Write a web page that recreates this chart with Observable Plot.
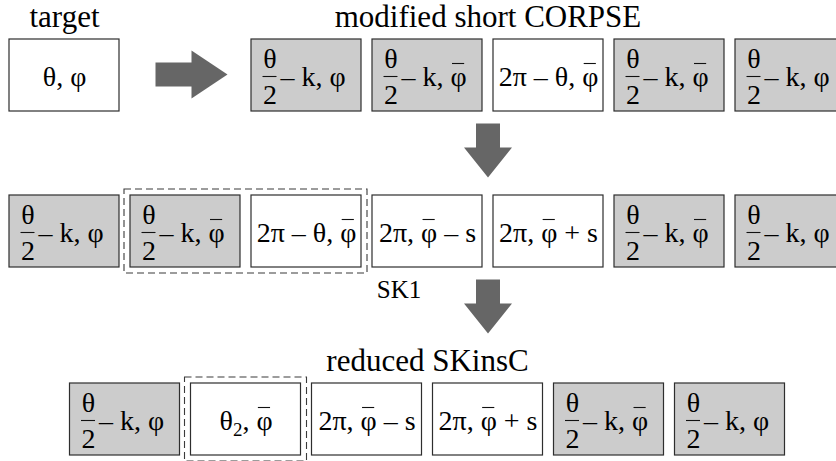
<!DOCTYPE html>
<html>
<head>
<meta charset="utf-8">
<script src="https://cdn.jsdelivr.net/npm/d3@7"></script>
<script src="https://cdn.jsdelivr.net/npm/@observablehq/plot@0.6"></script>
<style>html,body{margin:0;background:#fff}</style>
</head>
<body>
<div id="chart" style="position:relative;width:836px;height:461px"></div>
<script>
// ---------- data (labels only) ----------
// "φ\u0305" = φ with an overline, "\u2082" = subscript 2
const targetTitle = "target";
const corpseTitle = "modified short CORPSE";
const reducedTitle = "reduced SKinsC";
const stepLabel = "SK1";

const targetLabels = ["θ, φ"];
const targetShaded = [false];

const corpseLabels = ["θ/2 − k, φ", "θ/2 − k, φ\u0305", "2π − θ, φ\u0305", "θ/2 − k, φ\u0305", "θ/2 − k, φ"];
const corpseShaded = [true, true, false, true, true];

const sk1Labels = ["θ/2 − k, φ", "θ/2 − k, φ\u0305", "2π − θ, φ\u0305", "2π, φ\u0305 − s", "2π, φ\u0305 + s", "θ/2 − k, φ\u0305", "θ/2 − k, φ"];
const sk1Shaded = [true, true, false, false, false, true, true];
const sk1Group = [1, 2];

const reducedLabels = ["θ/2 − k, φ", "θ\u2082, φ\u0305", "2π, φ\u0305 − s", "2π, φ\u0305 + s", "θ/2 − k, φ\u0305", "θ/2 − k, φ"];
const reducedShaded = [true, false, false, false, true, true];
const reducedGroup = [1, 1];

// ---------- layout ----------
const W = 836, H = 461;
const FONT = "Liberation Serif";
const L = {
  slot: 121, x0: 9, boxW: 110, boxH: 72,
  rowTop: [39, 195, 383], pad: 6,
  fontTitle: 31, fontStep: 25, fontBox: 28, fontSub: 19
};
const px = s => L.x0 + s * L.slot;

function pulses(labels, shaded, row, start) {
  return labels.map((label, i) => {
    const slot = start + i;
    const m = label.match(/^(.+?)\/(\d)\s*(.*)$/);
    return {label, shaded: shaded[i], row, slot, left: px(slot), top: L.rowTop[row],
            frac: m ? {num: m[1], den: m[2], rest: m[3]} : null};
  });
}
const all = [
  ...pulses(targetLabels, targetShaded, 0, 0),
  ...pulses(corpseLabels, corpseShaded, 0, 2),
  ...pulses(sk1Labels, sk1Shaded, 1, 0),
  ...pulses(reducedLabels, reducedShaded, 2, 0.5)
];
const fracs = all.filter(d => d.frac);

const groups = [
  {row: 1, from: sk1Group[0], to: sk1Group[1], start: 0},
  {row: 2, from: reducedGroup[0], to: reducedGroup[1], start: 0.5}
].map(g => ({
  x1: px(g.start + g.from) - L.pad, x2: px(g.start + g.to) + L.boxW + L.pad,
  y1: L.rowTop[g.row] - L.pad, y2: L.rowTop[g.row] + L.boxH + L.pad
}));

function arrow(x1, y1, x2, y2, headLen) {
  const dx = x2 - x1, dy = y2 - y1, len = Math.hypot(dx, dy);
  const ux = dx / len, uy = dy / len, nx = -uy, ny = ux;
  const bx = x2 - ux * headLen, by = y2 - uy * headLen;
  return [
    [x1 + nx * 12, y1 + ny * 12], [bx + nx * 12, by + ny * 12], [bx + nx * 24, by + ny * 24],
    [x2, y2],
    [bx - nx * 24, by - ny * 24], [bx - nx * 12, by - ny * 12], [x1 - nx * 12, y1 - ny * 12]
  ].map(([x, y]) => ({x, y}));
}
const gapCenter = (px(3) + L.boxW + px(4)) / 2;
const arrows = [
  arrow(155, 74, 227, 74, 36),
  arrow(gapCenter, 123, gapCenter, 177, 30),
  arrow(gapCenter, 279, gapCenter, 333, 30)
];

// ---------- text layout (measured with the serif font) ----------
const ctx = document.createElement("canvas").getContext("2d");
function measure(text, size) { ctx.font = `${size}px "${FONT}"`; return ctx.measureText(text).width; }
// baseline -> y for Plot's default middle line anchor (dy = 0.32em)
const yOf = (baseline, size) => baseline - 0.32 * size;

const titleSegs = [
  {text: targetTitle, cx: px(0) + L.boxW / 2, base: 26},
  {text: corpseTitle, cx: gapCenter, base: 26},
  {text: reducedTitle, cx: (px(0.5) + px(5.5) + L.boxW) / 2, base: 370}
].map(d => ({text: d.text, x: d.cx - measure(d.text, L.fontTitle) / 2, y: yOf(d.base, L.fontTitle)}));
const stepSegs = [{text: stepLabel, x: px(3.5) - 34 - measure(stepLabel, L.fontStep) / 2, y: yOf(297, L.fontStep)}];

function tokens(str) {
  // minus drawn with the serif dash glyph
  return str.replace(/\u2212/g, "\u2013").split(/(φ\u0305|\u2082)/).filter(s => s.length);
}
function labelWidth(str) {
  return tokens(str).reduce((w, tk) =>
    w + (tk === "\u2082" ? measure("2", L.fontSub) : measure(tk.replace("\u0305", ""), L.fontBox)), 0);
}
const segs = [], subs = [], bars = [];
function typeset(str, x, baseline) {
  let cx = x;
  for (const tk of tokens(str)) {
    if (tk === "\u2082") {
      subs.push({x: cx, y: yOf(baseline + 6, L.fontSub), text: "2"});
      cx += measure("2", L.fontSub);
    } else if (tk === "φ\u0305") {
      const w = measure("φ", L.fontBox);
      segs.push({x: cx, y: yOf(baseline, L.fontBox), text: "φ"});
      bars.push({x1: cx + 2, x2: cx + w - 2, y: baseline - 22});
      cx += w;
    } else {
      segs.push({x: cx, y: yOf(baseline, L.fontBox), text: tk});
      cx += measure(tk, L.fontBox);
    }
  }
}
for (const d of all) {
  if (d.frac) {
    const c = d.left + 18.5;
    typeset(d.frac.num, c - labelWidth(d.frac.num) / 2, d.top + 28);
    typeset(d.frac.den, c - labelWidth(d.frac.den) / 2, d.top + 64);
    typeset(d.frac.rest, d.left + 29, d.top + 46);
  } else {
    typeset(d.label, d.left + (L.boxW - labelWidth(d.label)) / 2, d.top + 46);
  }
}

const scales = {
  width: W, height: H, margin: 0,
  x: {domain: [0, W], range: [0, W], axis: null},
  y: {domain: [0, H], range: [0, H], axis: null}
};

// layer 1: shapes
const shapes = Plot.plot({
  ...scales,
  marks: [
    Plot.rect(all.filter(d => d.shaded), {
      x1: "left", x2: d => d.left + L.boxW, y1: "top", y2: d => d.top + L.boxH,
      fill: "#cccccc", stroke: "#2e2e2e", strokeWidth: 1.2
    }),
    Plot.rect(all.filter(d => !d.shaded), {
      x1: "left", x2: d => d.left + L.boxW, y1: "top", y2: d => d.top + L.boxH,
      fill: "#ffffff", stroke: "#2e2e2e", strokeWidth: 1.2
    }),
    Plot.rect(groups, {
      x1: "x1", x2: "x2", y1: "y1", y2: "y2",
      fill: "none", stroke: "#3a3a3a", strokeWidth: 1.1, strokeDasharray: "7,4"
    }),
    ...arrows.map(a => Plot.line(a, {x: "x", y: "y", fill: "#666666", stroke: "none"})),
    Plot.ruleY(fracs, {
      x1: d => d.left + 11.5, x2: d => d.left + 25.5, y: d => d.top + 37,
      stroke: "#111", strokeWidth: 1.1
    }),
    Plot.ruleY(bars, {x1: "x1", x2: "x2", y: "y", stroke: "#111", strokeWidth: 1.1})
  ]
});

// layer 2: texts only
const texts = Plot.plot({
  ...scales,
  marks: [
    Plot.text(titleSegs, {x: "x", y: "y", text: "text", textAnchor: "start", fontFamily: FONT, fontSize: L.fontTitle}),
    Plot.text(stepSegs, {x: "x", y: "y", text: "text", textAnchor: "start", fontFamily: FONT, fontSize: L.fontStep}),
    Plot.text(segs, {x: "x", y: "y", text: "text", textAnchor: "start", fontFamily: FONT, fontSize: L.fontBox}),
    Plot.text(subs, {x: "x", y: "y", text: "text", textAnchor: "start", fontFamily: FONT, fontSize: L.fontSub})
  ]
});

const host = document.getElementById("chart");
host.appendChild(shapes);
texts.style.position = "absolute";
texts.style.left = "0px";
texts.style.top = "0px";
texts.style.background = "transparent";
host.appendChild(texts);
</script>
</body>
</html>
